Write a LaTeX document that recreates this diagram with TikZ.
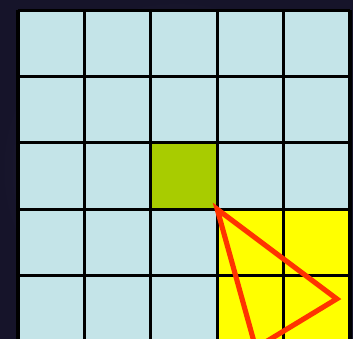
\documentclass[tikz,border=0pt]{standalone}
\usepackage{xcolor}
\usepackage{tikz}
\usetikzlibrary{calc}
\definecolor{mybg}{RGB}{22,20,42}
\definecolor{mybgin}{RGB}{44,42,68}
\definecolor{mycell}{RGB}{196,228,232}
\definecolor{mygreen}{RGB}{168,204,0}
\definecolor{myyellow}{RGB}{255,255,0}
\definecolor{myred}{RGB}{255,51,0}
\tikzset{
  cell/.style={fill=mycell},
  gridline/.style={draw=black, line width=1.3pt},
  tri/.style={draw=myred, line width=2.2pt, line join=miter}
}

\begin{document}
\begin{tikzpicture}[x=1cm, y=-1cm]

  % Background
  \clip (-0.271,-0.151) rectangle (5.045,4.940);
  \shade[inner color=mybgin, outer color=mybg] (-0.271,-0.151) rectangle (5.045,4.940);

  % Cells
  \fill[cell] (0,0) rectangle (5,5);
  \fill[mygreen] (2,2) rectangle (3,3);
  \fill[myyellow] (3,3) rectangle (5,5);

  % Grid
  \foreach \i in {0,...,5} {
    \draw[gridline] (\i,0) -- (\i,5);
    \draw[gridline] (0,\i) -- (5,\i);
  }

  % Triangle
  \coordinate (a) at (3,3);
  \coordinate (b) at (4.80,4.35);
  \coordinate (c) at (3.58,5.09);
  \draw[tri] (a) -- (b) -- (c) -- cycle;
\end{tikzpicture}
\end{document}
